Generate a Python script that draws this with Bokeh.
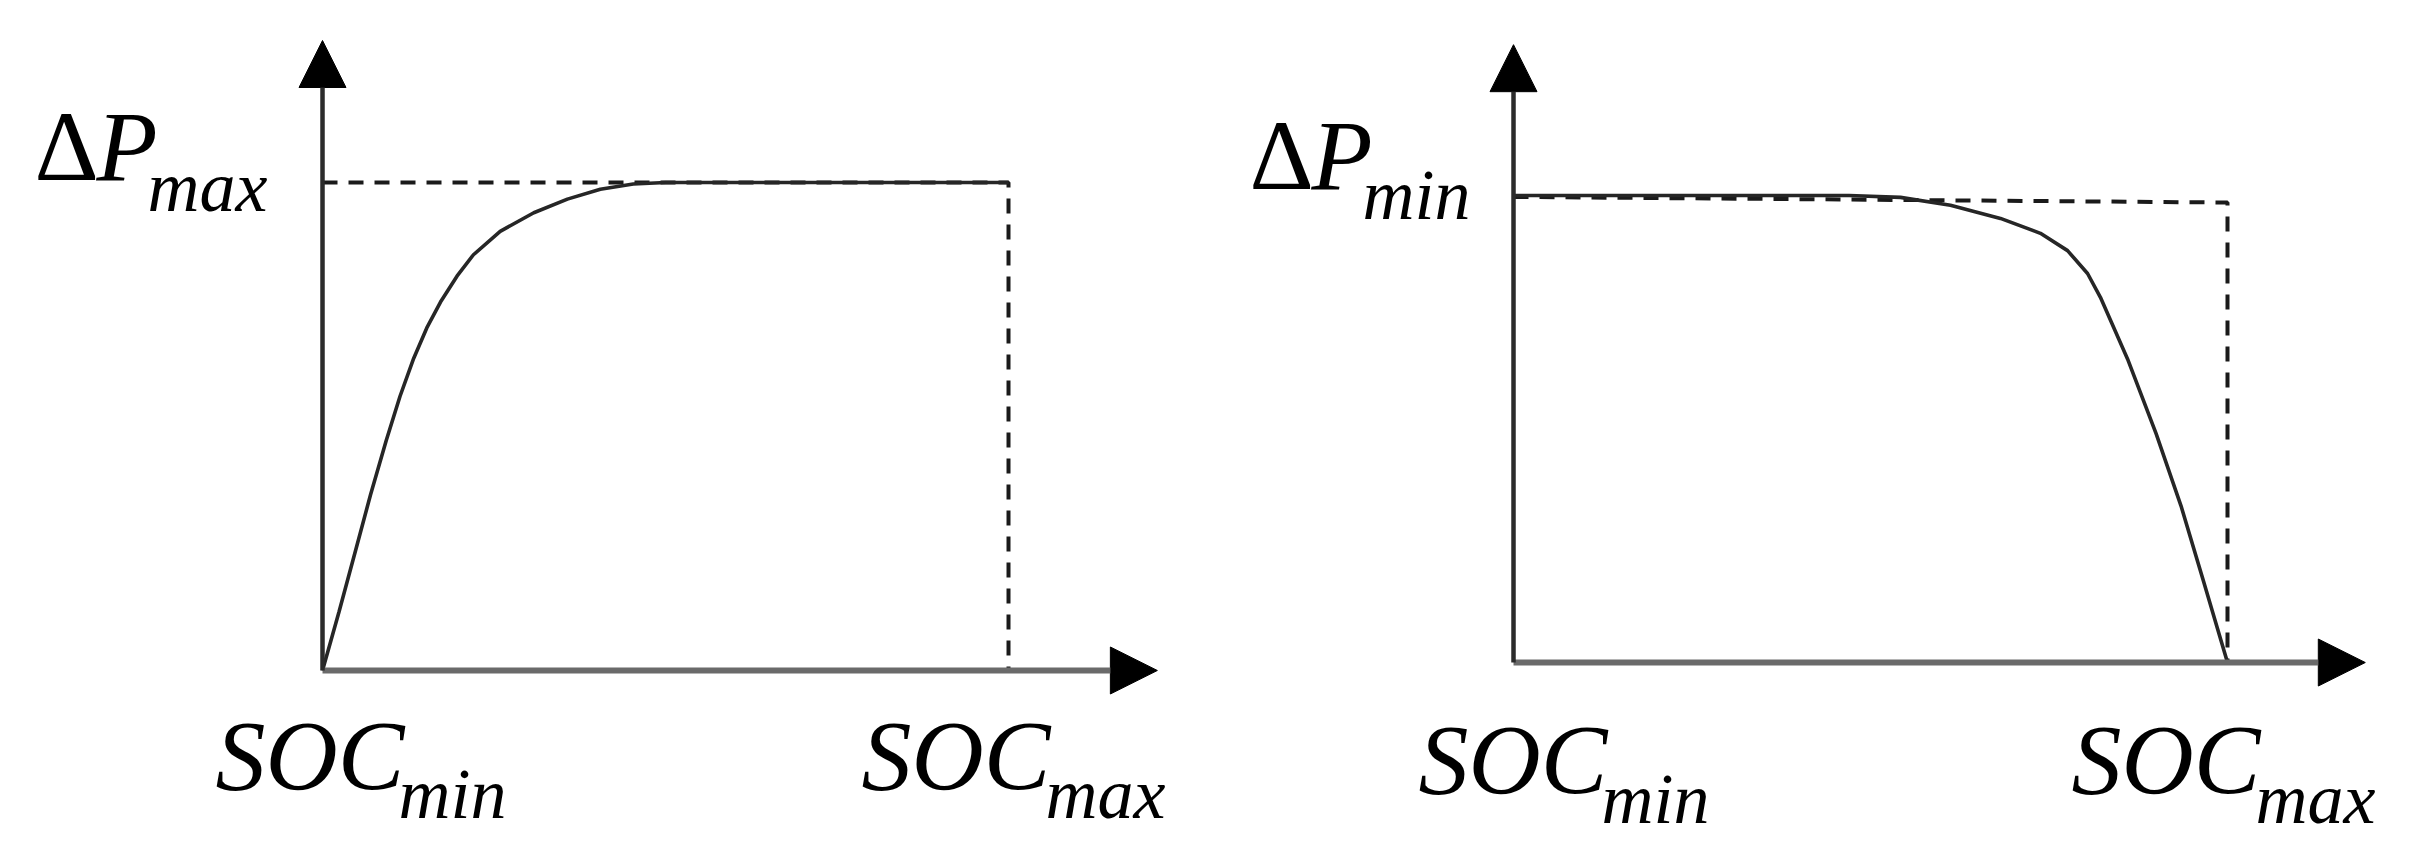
from bokeh.plotting import figure
from bokeh.layouts import row
from bokeh.models import Arrow, NormalHead
from bokeh.core.properties import value
from bokeh.embed import file_html
from bokeh.resources import INLINE

# ---------------- data (normalised SOC and dP) ----------------
soc_left = [0, 0.024, 0.048, 0.070, 0.093, 0.113, 0.133, 0.152, 0.172, 0.196,
            0.220, 0.259, 0.308, 0.357, 0.405, 0.453, 0.50, 0.60, 0.70, 0.80, 0.90, 1.0]
dp_left = [0, 0.120, 0.245, 0.360, 0.472, 0.562, 0.640, 0.702, 0.755, 0.808,
           0.852, 0.900, 0.938, 0.966, 0.986, 0.997, 1.0, 1.0, 1.0, 1.0, 1.0, 1.0]

soc_right = [0, 0.26, 0.47, 0.542, 0.612, 0.682, 0.738, 0.776, 0.804, 0.822,
             0.86, 0.90, 0.935, 0.966, 1.0]
dp_right = [1.0, 1.0, 1.0, 0.996, 0.979, 0.951, 0.919, 0.882, 0.833, 0.782,
            0.65, 0.49, 0.335, 0.176, 0.0]

dash_left_soc = [0, 1, 1]
dash_left_dp = [1.0, 1.0, 0]
dash_right_soc = [0, 1, 1]
dash_right_dp = [0.997, 0.985, 0]

x_labels = ["SOC", "SOC"]
x_subs = ["min", "max"]
x_label_pos = [0, 1]
y_left_label = ["\u0394", "P", "max"]
y_right_label = ["\u0394", "P", "min"]

# ---------------- styles ----------------
FONT = value("Liberation Serif")
MAIN = "100px"
SUB = "72px"
H = 842
MAIN_DY = -33   # empirical baseline correction
SUB_DY = -14


def make_panel(width, xr, yr, soc, dp, dsoc, ddp, xtip, ytip, ylab,
               xlab_off, ylab_off):
    p = figure(width=width, height=H, x_range=xr, y_range=yr,
               x_axis_type=None, y_axis_type=None,
               toolbar_location=None, output_backend="svg",
               min_border=0, outline_line_color=None,
               background_fill_color="white", border_fill_color="white")
    p.grid.visible = False
    # dashed limit lines
    p.line(dsoc, ddp, line_color="#1a1a1a", line_width=4, line_dash="15 11")
    # curve
    p.line(soc, dp, line_color="#262626", line_width=3.6)
    # axes as arrows
    p.add_layout(Arrow(x_start=0, y_start=0, x_end=xtip, y_end=0,
                       line_color="#6a6a6a", line_width=6,
                       end=NormalHead(size=47, fill_color="black",
                                      line_color="black", line_width=1)))
    p.add_layout(Arrow(x_start=0, y_start=0, x_end=0, y_end=ytip,
                       line_color="#2b2b2b", line_width=4.5,
                       end=NormalHead(size=47, fill_color="black",
                                      line_color="black", line_width=1)))
    # x labels
    for i, xv in enumerate(x_label_pos):
        (mx, my), (sx, sy) = xlab_off[i]
        p.text(x=[xv], y=[0], text=[x_labels[i]], x_offset=mx, y_offset=my + MAIN_DY,
               text_font=FONT, text_font_style="italic", text_font_size=MAIN,
               text_align="left", text_baseline="alphabetic", text_color="black")
        p.text(x=[xv], y=[0], text=[x_subs[i]], x_offset=sx, y_offset=sy + SUB_DY,
               text_font=FONT, text_font_style="italic", text_font_size=SUB,
               text_align="left", text_baseline="alphabetic", text_color="black")
    # y label
    (dx, dy), (px_, py_), (sx, sy) = ylab_off
    p.text(x=[0], y=[1], text=[ylab[0]], x_offset=dx, y_offset=dy + MAIN_DY,
           text_font=FONT, text_font_style="normal", text_font_size=MAIN,
           text_align="left", text_baseline="alphabetic", text_color="black")
    p.text(x=[0], y=[1], text=[ylab[1]], x_offset=px_, y_offset=py_ + MAIN_DY,
           text_font=FONT, text_font_style="italic", text_font_size=MAIN,
           text_align="left", text_baseline="alphabetic", text_color="black")
    p.text(x=[0], y=[1], text=[ylab[2]], x_offset=sx, y_offset=sy + SUB_DY,
           text_font=FONT, text_font_style="italic", text_font_size=SUB,
           text_align="left", text_baseline="alphabetic", text_color="black")
    return p


# left panel: SOC 0..1 -> 686px, dP 0..1 -> 488px
WL = 1197
pl = make_panel(WL, (-0.4694, 1.2755), (-0.3525, 1.3730),
                soc_left, dp_left, dash_left_soc, dash_left_dp,
                1.217, 1.291, y_left_label,
                [((-107, 118), (76, 138)), ((-147, 118), (37, 138))],
                ((-288, -3), (-226, -3), (-175, 18)))

# right panel: SOC 0..1 -> 714px, dP 0..1 -> 467px
WR = 1198
pr = make_panel(WR, (-0.4426, 1.2353), (-0.3854, 1.4176),
                soc_right, dp_right, dash_right_soc, dash_right_dp,
                1.193, 1.323, y_right_label,
                [((-95, 130), (88, 150)), ((-156, 130), (28, 150))],
                ((-264, -7), (-202, -7), (-151, 13)))

layout = row(pl, pr, spacing=0)
open("out.html", "w").write(file_html(layout, INLINE))
